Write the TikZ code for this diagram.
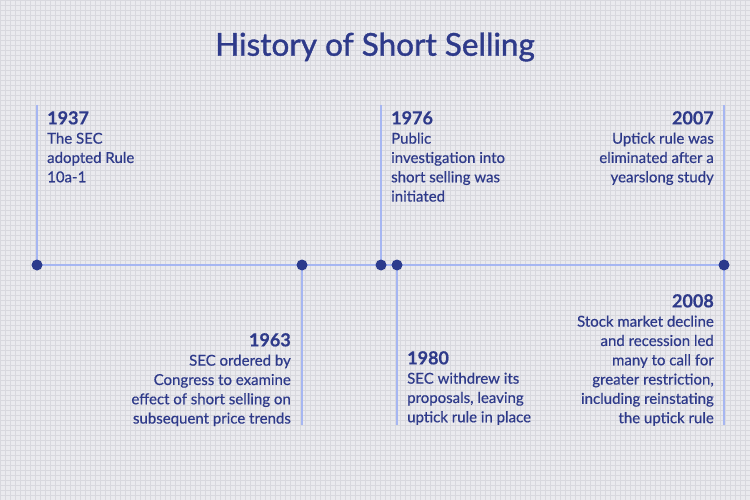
\documentclass[tikz,border=0pt]{standalone}
\usepackage{fontspec}
\setmainfont[FakeBold=0.5]{Lato}
\newfontfamily\titlefont[FakeBold=1.2]{Lato}
\definecolor{ink}{HTML}{2E3A8A}
\definecolor{dotc}{HTML}{2B3A8C}
\definecolor{linec}{HTML}{A6B6F2}
\definecolor{bgc}{HTML}{EAEAEE}
\definecolor{gridc}{HTML}{D8D8DE}
\newcommand{\yr}{\fontsize{18}{19.3}\selectfont\bfseries}
\tikzset{
  tline/.style={linec, line width=2.6pt},
  dot/.style={circle, fill=dotc, minimum size=11pt, inner sep=0pt},
  txt/.style={inner sep=0pt, text=ink, font=\fontsize{15}{19.3}\selectfont},
}
\begin{document}
\begin{tikzpicture}[x=1pt,y=-1pt]
\useasboundingbox (0,0) rectangle (750,500);
\fill[bgc] (0,0) rectangle (750,500);
\draw[gridc, line width=0.5pt, step=5pt] (0,0) grid (750,500);
% title
\node[text=ink, inner sep=0pt, font=\titlefont\fontsize{31.5}{36}\selectfont] (title) at (375,47) {History of Short Selling};
% dot positions
\coordinate (p1937) at (37,265);
\coordinate (p1963) at (302,265);
\coordinate (p1976) at (381,265);
\coordinate (p1980) at (397,265);
\coordinate (p2007) at (724,265);
% line ends
\coordinate (t1937) at (37,105);
\coordinate (t1976) at (381,105);
\coordinate (t2007) at (724,105);
\coordinate (b1963) at (302,425);
\coordinate (b1980) at (397,425);
\coordinate (b2008) at (724,425);
% lines
\draw[tline] (p1937) -- (p2007);
\draw[tline] (t1937) -- (p1937);
\draw[tline] (t1976) -- (p1976);
\draw[tline] (t2007) -- (p2007);
\draw[tline] (p1963) -- (b1963);
\draw[tline] (p1980) -- (b1980);
\draw[tline] (p2007) -- (b2008);
% dots
\node[dot] (d1937) at (p1937) {};
\node[dot] (d1963) at (p1963) {};
\node[dot] (d1976) at (p1976) {};
\node[dot] (d1980) at (p1980) {};
\node[dot] (d2007) at (p2007) {};
% texts
\node[txt, align=left, anchor=north west] (l1937) at (47,111) {{\yr 1937}\\The SEC\\adopted Rule\\10a-1};
\node[txt, align=right, anchor=north east] (l1963) at (291,333) {{\yr 1963}\\SEC ordered by\\Congress to examine\\effect of short selling on\\subsequent price trends};
\node[txt, align=left, anchor=north west] (l1976) at (391,111) {{\yr 1976}\\Public\\investigation into\\short selling was\\initiated};
\node[txt, align=left, anchor=north west] (l1980) at (407,351) {{\yr 1980}\\SEC withdrew its\\proposals, leaving\\uptick rule in place};
\node[txt, align=right, anchor=north east] (l2007) at (714,111) {{\yr 2007}\\Uptick rule was\\eliminated after a\\yearslong study};
\node[txt, align=right, anchor=north east] (l2008) at (714,294) {{\yr 2008}\\Stock market decline\\and recession led\\many to call for\\greater restriction,\\including reinstating\\the uptick rule};
\end{tikzpicture}
\end{document}
